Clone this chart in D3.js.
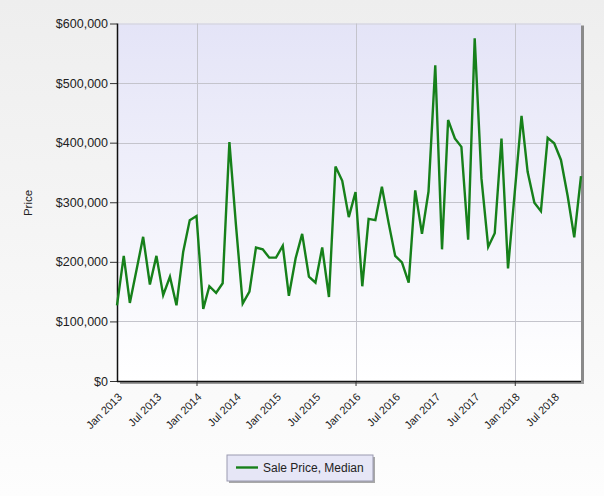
<!DOCTYPE html>
<html><head><meta charset="utf-8">
<script src="https://cdn.jsdelivr.net/npm/d3@7"></script>
<style>
html,body{margin:0;padding:0;overflow:hidden;}
body{width:604px;height:496px;}
</style></head>
<body>
<svg id="chart" width="604" height="496"></svg>
<script>
const months = d3.range(71).map(i => d3.timeMonth.offset(new Date(2013, 0, 1), i));
const salePriceMedian = [
  127000, 210000, 131000, 187000, 242000, 162000, 210000, 144000, 175000, 127000, 217000, 270000,
  277000, 121000, 159000, 148000, 164000, 401000, 262000, 130000, 150000, 224000, 221000, 207000,
  207000, 227000, 143000, 206000, 247000, 175000, 165000, 224000, 141000, 360000, 336000, 275000,
  317000, 159000, 272000, 270000, 326000, 265000, 210000, 199000, 165000, 320000, 247000, 318000,
  530000, 221000, 438000, 407000, 393000, 237000, 575000, 340000, 225000, 248000, 407000, 189000,
  317000, 445000, 351000, 299000, 285000, 408000, 399000, 371000, 310000, 241000, 344000
];
const yTicks = [0, 100000, 200000, 300000, 400000, 500000, 600000];
const xTickLabels = ["Jan 2013","Jul 2013","Jan 2014","Jul 2014","Jan 2015","Jul 2015","Jan 2016","Jul 2016","Jan 2017","Jul 2017","Jan 2018","Jul 2018"];
const seriesName = "Sale Price, Median";
const yTitle = "Price";

const svg = d3.select("#chart");
const L = 117, R = 581, T = 23.5, B = 381;

const defs = svg.append("defs");
const bg = defs.append("linearGradient").attr("id","bg").attr("x1",0).attr("y1",0).attr("x2",0).attr("y2",1);
bg.append("stop").attr("offset","0%").attr("stop-color","#eeeeee");
bg.append("stop").attr("offset","100%").attr("stop-color","#fdfdfd");
const pg = defs.append("linearGradient").attr("id","pg").attr("x1",0).attr("y1",0).attr("x2",0).attr("y2",1);
pg.append("stop").attr("offset","0%").attr("stop-color","#e4e4f7");
pg.append("stop").attr("offset","100%").attr("stop-color","#ffffff");

svg.append("rect").attr("width",604).attr("height",496).attr("fill","url(#bg)");

const x = d3.scaleTime().domain([months[0], months[months.length-1]]).range([L, R]);
const y = d3.scaleLinear().domain([0, 600000]).range([B, T]);

// shadow
svg.append("rect").attr("x", R).attr("y", T+2).attr("width", 3).attr("height", B-T).attr("fill","#8a8a8a");
svg.append("rect").attr("x", L+3).attr("y", B).attr("width", R-L).attr("height", 3).attr("fill","#9a9a9a");
svg.append("rect").attr("x", L).attr("y", T).attr("width", R-L).attr("height", B-T).attr("fill","url(#pg)");
svg.append("line").attr("x1",L).attr("x2",R).attr("y1",T+0.5).attr("y2",T+0.5).attr("stroke","#d0d0d8");

// grid
svg.append("g").selectAll("line").data(yTicks.slice(1,-1)).join("line")
  .attr("x1", L).attr("x2", R).attr("y1", d => Math.round(y(d))+0.5).attr("y2", d => Math.round(y(d))+0.5)
  .attr("stroke","#c4c4cc").attr("stroke-width",1);
const gridMonths = [new Date(2014,0,1), new Date(2016,0,1), new Date(2018,0,1)];
svg.append("g").selectAll("line").data(gridMonths).join("line")
  .attr("x1", d => Math.round(x(d))+0.5).attr("x2", d => Math.round(x(d))+0.5).attr("y1", T).attr("y2", B)
  .attr("stroke","#c4c4cc").attr("stroke-width",1);

// y axis
const yAxis = d3.axisLeft(y).tickValues(yTicks).tickSize(7).tickPadding(2)
  .tickFormat(d => "$" + d3.format(",")(d));
const gy = svg.append("g").attr("transform", `translate(${L},0)`).call(yAxis);
gy.select(".domain").remove();
gy.selectAll(".tick line").attr("stroke","#333");
gy.selectAll("text").attr("font-family","Liberation Sans, Arial, sans-serif").attr("font-size","12.5px").attr("fill","#222");
svg.append("line").attr("x1",L+0.5).attr("x2",L+0.5).attr("y1",T).attr("y2",B+1).attr("stroke","#111").attr("stroke-width",1.5);

// x axis
const xTickDates = xTickLabels.map((t,i) => d3.timeMonth.offset(months[0], i*6));
const xAxis = d3.axisBottom(x).tickValues(gridMonths).tickSize(5).tickFormat("");
const gx = svg.append("g").attr("transform", `translate(0,${B})`).call(xAxis);
gx.select(".domain").remove();
gx.selectAll(".tick line").attr("stroke","#333");
svg.append("line").attr("x1",L).attr("x2",R).attr("y1",B+0.5).attr("y2",B+0.5).attr("stroke","#111").attr("stroke-width",1.5);
svg.append("g").selectAll("text").data(xTickLabels).join("text")
  .attr("transform", (d,i) => `translate(${x(xTickDates[i])+3},${B+14}) rotate(-45)`)
  .attr("text-anchor","end").attr("dy","0.35em")
  .attr("font-family","Liberation Sans, Arial, sans-serif").attr("font-size","11px").attr("fill","#222")
  .text(d => d);

// y title
svg.append("text").attr("transform","translate(32,203) rotate(-90)").attr("text-anchor","middle")
  .attr("font-family","Liberation Sans, Arial, sans-serif").attr("font-size","11.5px").attr("fill","#222").text(yTitle);

// line
const line = d3.line().x((d,i) => x(months[i])).y(d => y(d));
svg.append("path").datum(salePriceMedian).attr("d", line).attr("fill","none")
  .attr("stroke","#16801a").attr("stroke-width",2.4).attr("stroke-linejoin","miter");

// legend
const lg = svg.append("g");
lg.append("rect").attr("x",229).attr("y",457).attr("width",146).attr("height",26).attr("fill","#a8a8a8");
lg.append("rect").attr("x",227).attr("y",455).attr("width",146).attr("height",26).attr("fill","#e6e6f6").attr("stroke","#9a9ab0").attr("stroke-width",1);
lg.append("line").attr("x1",236).attr("x2",258).attr("y1",467.5).attr("y2",467.5).attr("stroke","#16801a").attr("stroke-width",2.4);
lg.append("text").attr("x",263).attr("y",468).attr("dy","0.35em")
  .attr("font-family","Liberation Sans, Arial, sans-serif").attr("font-size","12px").attr("fill","#222").text(seriesName);
</script>
</body></html>
